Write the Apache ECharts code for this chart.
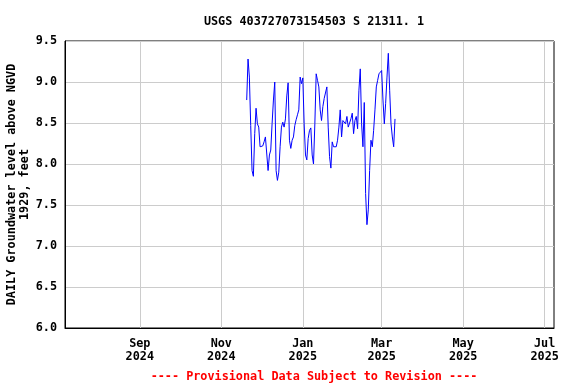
<!DOCTYPE html>
<html>
<head>
<meta charset="utf-8">
<script src="https://cdn.jsdelivr.net/npm/echarts@6/dist/echarts.min.js"></script>
<style>html,body{margin:0;padding:0;background:#fff}#c{width:576px;height:384px}</style>
</head>
<body>
<div id="c"></div>
<script>
const titleText = 'USGS 403727073154503 S 21311. 1';
const footerText = '---- Provisional Data Subject to Revision ----';
const yAxisName = 'DAILY Groundwater level above NGVD\n1929, feet';
const startDate = '2024-11-20';
const levels = [
  8.78, 9.28, 9.06, 8.47, 7.92, 7.85, 8.37, 8.68, 8.49, 8.45,
  8.21, 8.19, 8.22, 8.27, 8.33, 8.35, 7.92, 8.11, 8.17, 8.49,
  8.78, 9.00, 7.92, 7.80, 7.90, 8.21, 8.45, 8.51, 8.45, 8.55,
  8.83, 8.99, 8.29, 8.19, 8.29, 8.33, 8.47, 8.54, 8.60, 8.66,
  9.06, 8.98, 9.05, 8.49, 8.11, 8.05, 8.31, 8.41, 8.44, 8.11,
  8.00, 8.49, 9.10, 9.02, 8.94, 8.66, 8.53, 8.70, 8.80, 8.80,
  8.94, 8.45, 8.09, 7.95, 8.27, 8.21, 8.20, 8.21, 8.29, 8.45,
  8.66, 8.33, 8.53, 8.52, 8.49, 8.58, 8.45, 8.45, 8.55, 8.62,
  8.37, 8.53, 8.58, 8.43, 8.90, 9.16, 8.49, 8.21, 8.75, 7.64,
  7.26, 7.44, 7.92, 8.29, 8.21, 8.41, 8.66, 8.94, 9.02, 9.10,
  9.12, 9.14, 8.78, 8.49, 8.74, 9.06, 9.35, 8.90, 8.49, 8.33,
  8.21, 8.55
];
const tickDates = ['2024-09-01', '2024-11-01', '2025-01-01', '2025-03-01', '2025-05-01', '2025-07-01'];
const monthNames = ['Jan','Feb','Mar','Apr','May','Jun','Jul','Aug','Sep','Oct','Nov','Dec'];
const xMin = '2024-07-07';
const xMax = '2025-07-08';
const yTicks = [6.0, 6.5, 7.0, 7.5, 8.0, 8.5, 9.0, 9.5];

const DAY = 86400000;
const ts = s => Date.parse(s + 'T00:00:00Z');
const t0 = ts(startDate);
const seriesData = levels.map((v, i) => [t0 + i * DAY, v]);
const tickValues = tickDates.map(ts);

const FONT = '"DejaVu Sans Mono", "Liberation Mono", monospace';
const chart = echarts.init(document.getElementById('c'), null, {renderer: 'canvas'});
chart.setOption({
  animation: false,
  backgroundColor: '#fff',
  title: [
    {text: titleText, left: 309, top: 11, textAlign: 'center',
     textStyle: {fontFamily: FONT, fontSize: 11.8, fontWeight: 'bold', color: '#000'}},
    {text: footerText, left: 309, top: 366, textAlign: 'center',
     textStyle: {fontFamily: FONT, fontSize: 11.8, fontWeight: 'bold', color: '#ff0000'}}
  ],
  grid: {left: 65, right: 22, top: 41, bottom: 56, show: true, borderColor: '#000', borderWidth: 1,
         containLabel: false, outerBoundsMode: 'none'},
  xAxis: {
    type: 'value',
    min: ts(xMin), max: ts(xMax),
    axisLine: {show: true, lineStyle: {color: '#000'}},
    axisTick: {show: false, customValues: tickValues},
    axisLabel: {
      customValues: tickValues,
      hideOverlap: false,
      margin: 9,
      fontFamily: FONT, fontSize: 11.8, fontWeight: 'bold', color: '#000', lineHeight: 13,
      formatter: v => { const d = new Date(v); return monthNames[d.getUTCMonth()] + '\n' + d.getUTCFullYear(); }
    },
    splitLine: {show: true, lineStyle: {color: '#cccccc', width: 1}}
  },
  yAxis: {
    type: 'value',
    min: yTicks[0], max: yTicks[yTicks.length - 1], interval: 0.5,
    name: yAxisName, nameLocation: 'middle', nameGap: 34, nameRotate: 90, nameMoveOverlap: false,
    nameTextStyle: {fontFamily: FONT, fontSize: 11.8, fontWeight: 'bold', color: '#000', lineHeight: 13},
    axisLine: {show: true, lineStyle: {color: '#000'}},
    axisTick: {show: false},
    axisLabel: {fontFamily: FONT, fontSize: 11.8, fontWeight: 'bold', color: '#000', margin: 8,
      formatter: v => v.toFixed(1)},
    splitLine: {show: true, lineStyle: {color: '#cccccc', width: 1}}
  },
  series: [{
    type: 'line', data: seriesData, showSymbol: false, symbol: 'none',
    lineStyle: {color: '#0000ff', width: 1}, itemStyle: {color: '#0000ff'}
  }]
});
</script>
</body>
</html>
